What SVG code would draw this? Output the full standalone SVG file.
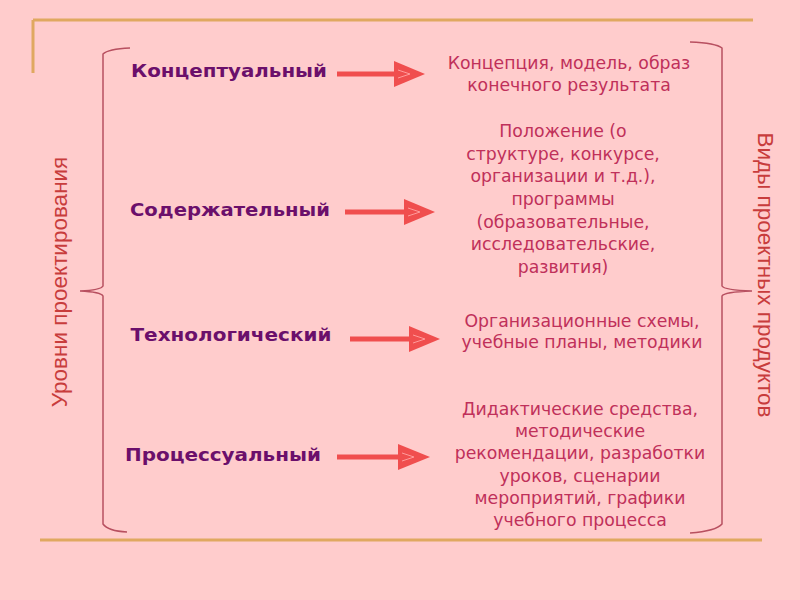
<svg xmlns="http://www.w3.org/2000/svg" width="800" height="600" viewBox="0 0 800 600">
<defs>
<style>
.frame{stroke:#E0A860;stroke-width:3;fill:none}
.br{stroke:#B85060;stroke-width:1.5;fill:none}
.lbl{font-family:"DejaVu Sans",Verdana,sans-serif;font-weight:bold;font-size:18px;fill:#6B0F6B;text-anchor:middle}
.res{font-family:"DejaVu Sans",Verdana,sans-serif;font-size:17.3px;fill:#C0305A;text-anchor:middle}
.side{font-family:"Liberation Sans",Arial,sans-serif;font-size:22.5px;fill:#C83C3C;text-anchor:middle}
.arr{stroke:#F04E4E;stroke-width:5;fill:none}
.head{fill:#F04E4E}
.tex{fill:none;stroke:#FF9A9A;stroke-width:1}
</style>
</defs>
<rect width="800" height="600" fill="#FFCCCC"/>
<g id="frame">
<path class="frame" d="M33,20 H753 M33,20 V73 M40,540 H762"/>
</g>
<g id="brackets">
<path class="br" d="M130,48 Q108,49 103,54 V286 Q101,290 80,291 Q101,292 103,296 V524 Q108,531 127,532"/>
<path class="br" d="M690,42 Q716,43 722,48 V286 Q724,290 752,291 Q724,292 722,296 V524 Q716,531 690,533"/>
</g>
<g id="sideLabels">
<text class="side" transform="translate(67,282) rotate(-90)">Уровни проектирования</text>
<text class="side" transform="translate(758,275) rotate(90)">Виды проектных продуктов</text>
</g>
<g id="level1">
<text class="lbl" x="229" y="77" textLength="196" lengthAdjust="spacingAndGlyphs">Концептуальный</text>
</g>
<g id="level2">
<text class="lbl" x="230" y="216" textLength="200" lengthAdjust="spacingAndGlyphs">Содержательный</text>
</g>
<g id="level3">
<text class="lbl" x="231" y="341" textLength="201" lengthAdjust="spacingAndGlyphs">Технологический</text>
</g>
<g id="level4">
<text class="lbl" x="223" y="461" textLength="196" lengthAdjust="spacingAndGlyphs">Процессуальный</text>
</g>
<g id="product1">
<text class="res" x="569" y="69">Концепция, модель, образ</text>
<text class="res" x="569" y="91">конечного результата</text>
</g>
<g id="product2">
<text class="res" x="563" y="137">Положение (о</text>
<text class="res" x="563" y="160">структуре, конкурсе,</text>
<text class="res" x="563" y="182">организации и т.д.),</text>
<text class="res" x="563" y="205">программы</text>
<text class="res" x="563" y="228">(образовательные,</text>
<text class="res" x="563" y="250">исследовательские,</text>
<text class="res" x="563" y="273">развития)</text>
</g>
<g id="product3">
<text class="res" x="582" y="327">Организационные схемы,</text>
<text class="res" x="582" y="348">учебные планы, методики</text>
</g>
<g id="product4">
<text class="res" x="580" y="415">Дидактические средства,</text>
<text class="res" x="580" y="437">методические</text>
<text class="res" x="580" y="459">рекомендации, разработки</text>
<text class="res" x="580" y="482">уроков, сценарии</text>
<text class="res" x="580" y="504">мероприятий, графики</text>
<text class="res" x="580" y="526">учебного процесса</text>
</g>
<g id="connectors">
<path class="arr" d="M337,74 H396"/>
<path class="head" d="M394,61 L425,74 L394,87 Z"/>
<path class="tex" d="M398,70 L410,74 L398,78"/>
<path class="arr" d="M345,212 H406"/>
<path class="head" d="M404,199 L435,212 L404,225 Z"/>
<path class="tex" d="M408,208 L420,212 L408,216"/>
<path class="arr" d="M350,339 H411"/>
<path class="head" d="M409,326 L440,339 L409,352 Z"/>
<path class="tex" d="M413,335 L425,339 L413,343"/>
<path class="arr" d="M337,457 H400"/>
<path class="head" d="M398,444 L430,457 L398,470 Z"/>
<path class="tex" d="M402,453 L414,457 L402,461"/>
</g>
</svg>
